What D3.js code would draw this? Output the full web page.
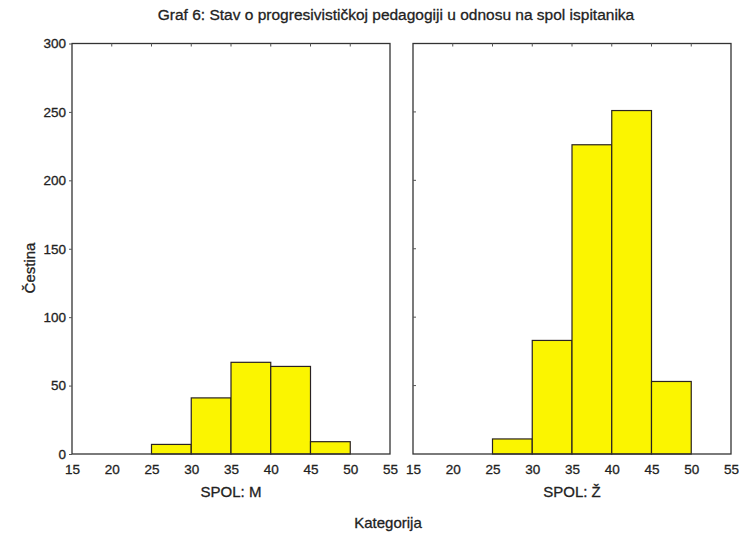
<!DOCTYPE html>
<html><head><meta charset="utf-8">
<script src="https://cdn.jsdelivr.net/npm/d3@7"></script>
<style>body{margin:0;background:#fff}svg{display:block}text{font-family:"Liberation Sans",Arial,sans-serif;fill:#222;stroke:#222;stroke-width:0.3px}</style>
</head><body>
<script>
const binStarts = [15, 20, 25, 30, 35, 40, 45, 50];
const binWidth = 5;
const countsM = [0, 0, 7, 41, 67, 64, 9, 0];
const countsZ = [0, 0, 11, 83, 226, 251, 53, 0];
const panelLabels = ["SPOL: M", "SPOL: Ž"];
const xTicks = [15, 20, 25, 30, 35, 40, 45, 50, 55];
const yTicks = [0, 50, 100, 150, 200, 250, 300];
const title = "Graf 6: Stav o progresivističkoj pedagogiji u odnosu na spol ispitanika";
const xTitle = "Kategorija";
const yTitle = "Čestina";

(function () {
const W = 739, H = 534;
const svg = d3.select("body").append("svg").attr("width", W).attr("height", H);
const plotTop = 43.5, plotBottom = 454;
const panels = [{x0: 72, x1: 390, data: countsM, label: panelLabels[0]},
                {x0: 413, x1: 731, data: countsZ, label: panelLabels[1]}];
const y = d3.scaleLinear().domain([0, 300]).range([plotBottom, plotTop]);

svg.append("text").attr("x", 396).attr("y", 20).attr("text-anchor", "middle")
  .attr("font-size", 15.5).text(title);

panels.forEach((p, pi) => {
  const x = d3.scaleLinear().domain([15, 55]).range([p.x0, p.x1]);
  const g = svg.append("g");
  const bins = binStarts.map((s, i) => ({s, v: p.data[i]})).filter(d => d.v > 0);
  g.selectAll("rect.bar").data(bins).enter().append("rect").attr("class", "bar")
    .attr("x", d => x(d.s)).attr("width", d => x(d.s + binWidth) - x(d.s))
    .attr("y", d => y(d.v)).attr("height", d => y(0) - y(d.v))
    .attr("fill", "#fbf500").attr("stroke", "#2a2222").attr("stroke-width", 1.2);
  g.append("rect").attr("x", p.x0).attr("y", plotTop).attr("width", p.x1 - p.x0).attr("height", plotBottom - plotTop)
    .attr("fill", "none").attr("stroke", "#333").attr("stroke-width", 1.3);
  const xa = svg.append("g").attr("transform", `translate(0,${plotBottom})`)
    .call(d3.axisBottom(x).tickValues(xTicks).tickSize(0).tickPadding(10).tickFormat(d3.format("d")));
  xa.select(".domain").remove();
  xa.selectAll("text").attr("font-size", 13.5).attr("font-family", "Liberation Sans, Arial, sans-serif").attr("fill", "#222");
  g.selectAll("line.tt").data(xTicks.slice(1, -1)).enter().append("line").attr("class", "tt")
    .attr("x1", d => x(d)).attr("x2", d => x(d)).attr("y1", plotTop).attr("y2", plotTop + 3)
    .attr("stroke", "#555").attr("stroke-width", 1);
  if (pi === 0) {
    const ya = svg.append("g").attr("transform", `translate(${p.x0},0)`)
      .call(d3.axisLeft(y).tickValues(yTicks).tickSize(3).tickPadding(3).tickFormat(d3.format("d")));
    ya.select(".domain").remove();
    ya.selectAll("line").attr("stroke", "#555");
    ya.selectAll("text").attr("font-size", 13.5).attr("font-family", "Liberation Sans, Arial, sans-serif").attr("fill", "#222");
  } else {
    g.selectAll("line.yt").data(yTicks.slice(1, -1)).enter().append("line").attr("class", "yt")
      .attr("x1", p.x0).attr("x2", p.x0 + 3).attr("y1", d => y(d)).attr("y2", d => y(d))
      .attr("stroke", "#555").attr("stroke-width", 1);
  }
  svg.append("text").attr("x", (p.x0 + p.x1) / 2).attr("y", 497).attr("text-anchor", "middle")
    .attr("font-size", 15).text(p.label);
});

svg.append("text").attr("x", 388).attr("y", 528).attr("text-anchor", "middle")
  .attr("font-size", 15).text(xTitle);
svg.append("text").attr("transform", "translate(35,268) rotate(-90)").attr("text-anchor", "middle")
  .attr("font-size", 15).text(yTitle);
})();
</script>
</body></html>
